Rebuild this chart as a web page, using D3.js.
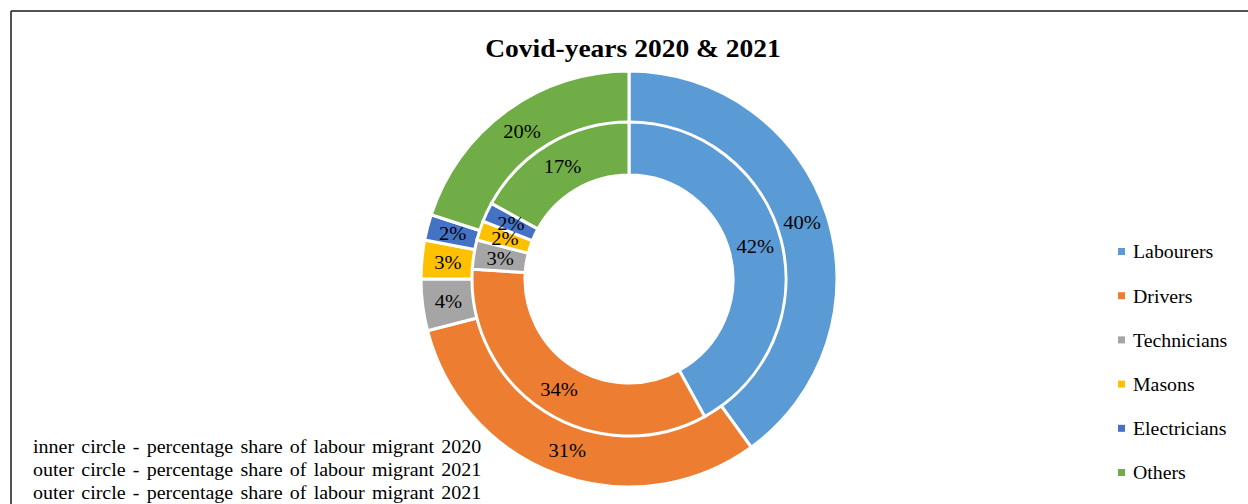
<!DOCTYPE html>
<html>
<head>
<meta charset="utf-8">
<script src="https://cdn.jsdelivr.net/npm/d3@7/dist/d3.min.js"></script>
<style>
  html, body { margin: 0; padding: 0; background: #fff; }
  svg { display: block; }
  text { font-family: "Liberation Serif", "DejaVu Serif", serif; fill: #000; }
</style>
</head>
<body>
<svg id="chart" width="1248" height="504"></svg>
<script>
// Occupation categories and their shares (%)
const categories = ["Labourers", "Drivers", "Technicians", "Masons", "Electricians", "Others"];
const colors = ["#5B9BD5", "#ED7D31", "#A5A5A5", "#FFC000", "#4472C4", "#70AD47"];
const share2020 = [42, 34, 3, 2, 2, 17];   // inner ring
const share2021 = [40, 31, 4, 3, 2, 20];   // outer ring
const notes = [
  "inner circle - percentage share of labour migrant 2020",
  "outer circle - percentage share of labour migrant 2021",
  "outer circle - percentage share of labour migrant 2021"
];
const title = "Covid-years 2020 & 2021";

const svg = d3.select("#chart");

// Widen a text element horizontally by a factor (the serif face used is narrower than the design face)
function widen(sel, k) {
  sel.each(function () {
    const w = this.getComputedTextLength();
    d3.select(this).attr("textLength", w * k).attr("lengthAdjust", "spacingAndGlyphs");
  });
  return sel;
}

// Frame lines (top and left)
svg.append("line").attr("x1", 11).attr("y1", 11).attr("x2", 1248).attr("y2", 11)
  .attr("stroke", "#1a1a1a").attr("stroke-width", 1.5);
svg.append("line").attr("x1", 11).attr("y1", 11).attr("x2", 11).attr("y2", 504)
  .attr("stroke", "#1a1a1a").attr("stroke-width", 1.5);

// Title
svg.append("text")
  .attr("x", 633).attr("y", 57)
  .attr("text-anchor", "middle")
  .attr("font-size", 25).attr("font-weight", "bold")
  .text(title)
  .call(widen, 1.1);

const cx = 629, cy = 279;
const color = d3.scaleOrdinal().domain(categories).range(colors);
const pie = d3.pie().sort(null).value(d => d.value);

const g = svg.append("g").attr("transform", `translate(${cx},${cy})`);

function ring(values, r0, r1, cls) {
  const data = pie(categories.map((c, i) => ({ cat: c, value: values[i] })));
  const arc = d3.arc().innerRadius(r0).outerRadius(r1);
  const rg = g.append("g").attr("class", cls);
  rg.selectAll("path").data(data).join("path")
    .attr("d", arc)
    .attr("fill", d => color(d.data.cat))
    .attr("stroke", "#fff")
    .attr("stroke-width", 3)
    .attr("stroke-linejoin", "miter");
  rg.selectAll("text").data(data).join("text")
    .attr("transform", d => `translate(${arc.centroid(d)})`)
    .attr("text-anchor", "middle")
    .attr("dy", "0.35em")
    .attr("font-size", 19)
    .text(d => d.data.value + "%")
    .call(widen, 1.08);
}

ring(share2021, 156, 208, "outer");
ring(share2020, 104, 157, "inner");

// Legend
const legend = svg.append("g");
const ly = d3.scalePoint().domain(categories).range([252, 473]);
categories.forEach(c => {
  legend.append("rect")
    .attr("x", 1118).attr("y", ly(c) - 4)
    .attr("width", 7).attr("height", 7)
    .attr("fill", color(c));
  legend.append("text")
    .attr("x", 1133).attr("y", ly(c))
    .attr("dy", "0.35em")
    .attr("font-size", 18)
    .text(c)
    .call(widen, 1.1);
});

// Notes in the lower left
notes.forEach((t, i) => {
  svg.append("text")
    .attr("x", 33).attr("y", 453 + i * 23)
    .attr("font-size", 18)
    .attr("word-spacing", 2)
    .text(t)
    .call(widen, 1.11);
});
</script>
</body>
</html>
